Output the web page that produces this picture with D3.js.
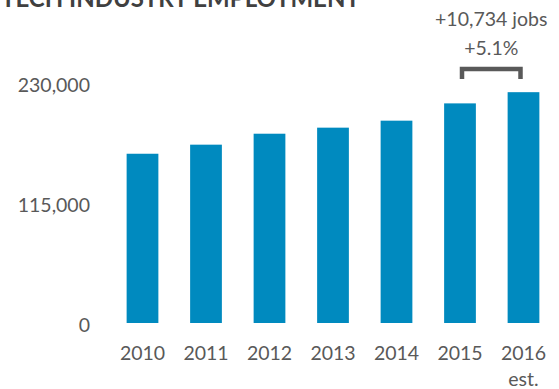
<!DOCTYPE html>
<html>
<head>
<meta charset="utf-8">
<script src="https://cdn.jsdelivr.net/npm/d3@7"></script>
<style>
  html, body { margin: 0; padding: 0; background: #fff; }
  svg { display: block; font-family: Lato, "Open Sans", sans-serif; }
</style>
</head>
<body>
<svg id="chart" width="559" height="389"></svg>
<script>
// Tech industry employment by year
const years = ["2010", "2011", "2012", "2013", "2014", "2015", "2016"];
const yearNotes = ["", "", "", "", "", "", "est."];
const employment = [162200, 170900, 181400, 187200, 193900, 210470, 221204];
const yTicks = [0, 115000, 230000];
const changeLines = ["+10,734 jobs", "+5.1%"];

const barColor = "#008abf";
const textColor = "#595959";

const svg = d3.select("#chart");

const x = d3.scaleBand()
  .domain(years)
  .range([110.75, 555.25])
  .paddingInner(0.5)
  .paddingOuter(0.25);

const y = d3.scaleLinear()
  .domain([0, 230000])
  .range([323, 83]);

// Title (sits partly above the top edge)
svg.append("text")
  .attr("x", 1)
  .attr("y", 7)
  .attr("font-size", 24)
  .attr("font-weight", 700)
  .attr("fill", "#404040")
  .text("TECH INDUSTRY EMPLOYMENT");

// Y axis labels
const yAxis = d3.axisLeft(y).tickValues(yTicks).tickFormat(d3.format(",")).tickSize(0).tickPadding(0);
const yG = svg.append("g").attr("transform", "translate(90,0)").call(yAxis);
yG.select(".domain").remove();
yG.selectAll("text")
  .attr("font-size", 19.5)
  .attr("font-family", "Lato, sans-serif")
  .attr("fill", textColor)
  .attr("dy", "0.45em");

// Bars
svg.append("g").selectAll("rect")
  .data(years)
  .join("rect")
  .attr("x", d => x(d))
  .attr("width", x.bandwidth())
  .attr("y", (d, i) => y(employment[i]))
  .attr("height", (d, i) => y(0) - y(employment[i]))
  .attr("fill", barColor);

// X axis labels
const xAxis = d3.axisBottom(x).tickSize(0).tickPadding(0);
const xG = svg.append("g").attr("transform", "translate(0,345)").call(xAxis);
xG.select(".domain").remove();
xG.selectAll("text").remove();
xG.selectAll(".tick").each(function (d, i) {
  const t = d3.select(this).append("text")
    .attr("text-anchor", "middle")
    .attr("font-size", 19.5)
    .attr("font-family", "Lato, sans-serif")
    .attr("fill", textColor);
  t.append("tspan").attr("x", 0).attr("y", 15).text(d);
  if (yearNotes[i]) t.append("tspan").attr("x", 0).attr("y", 41).text(yearNotes[i]);
});

// Year-over-year change bracket between the last two bars
const a = x(years[5]) + x.bandwidth() / 2 + 2;
const b = x(years[6]) + x.bandwidth() / 2 - 3;
const bracketTop = 69;
svg.append("path")
  .attr("d", `M${a},${bracketTop + 10}V${bracketTop}H${b}V${bracketTop + 10}`)
  .attr("fill", "none")
  .attr("stroke", textColor)
  .attr("stroke-width", 4.5);

const mid = (a + b) / 2;
svg.append("g").selectAll("text")
  .data(changeLines)
  .join("text")
  .attr("x", mid)
  .attr("y", (d, i) => 26 + i * 28.5)
  .attr("text-anchor", "middle")
  .attr("font-size", 19.5)
  .attr("fill", textColor)
  .text(d => d);
</script>
</body>
</html>
